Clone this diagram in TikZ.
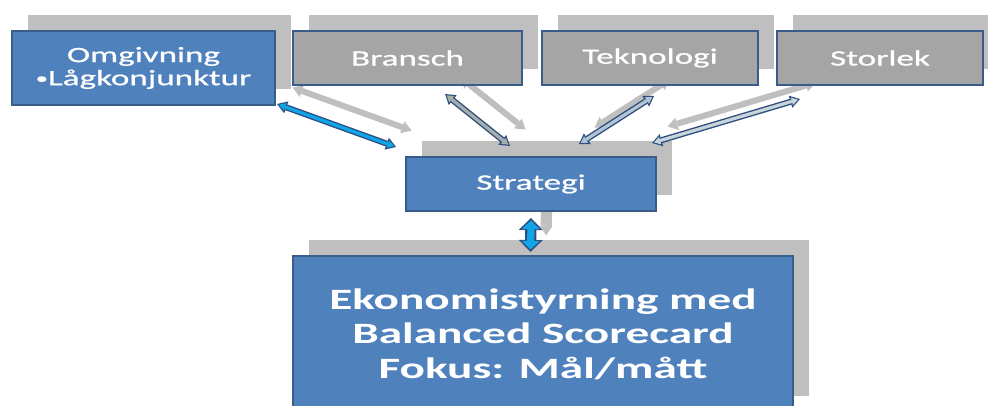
\documentclass[tikz,border=0pt]{standalone}
\usepackage{fontspec}
\setmainfont{Carlito}[FakeStretch=1.6]
\newfontfamily\labelfont{Carlito}[FakeStretch=1.6,FakeBold=0.8]
\usetikzlibrary{arrows.meta,shadows}
\pgfdeclarelayer{background}
\pgfsetlayers{background,main}
\definecolor{boxblue}{HTML}{4F81BD}
\definecolor{boxedge}{HTML}{385D8A}
\definecolor{boxgrey}{HTML}{A5A5A5}
\definecolor{shade}{HTML}{BFBFBF}
\definecolor{linkedge}{HTML}{2E5080}
\definecolor{cyanfill}{HTML}{10A5E8}
\definecolor{branfill}{HTML}{A7AFAB}
\definecolor{teknfill}{HTML}{B3C4D2}
\definecolor{storfill}{HTML}{C9D3DA}
\tikzset{
  box/.style={draw=boxedge, line width=1.4pt, text=white, inner sep=0pt,
    align=center, font=\labelfont\fontsize{15.6}{16.4}\selectfont,
    general shadow={fill=shade, shadow xshift=0.39cm, shadow yshift=0.41cm}},
  bluebox/.style={box, fill=boxblue},
  greybox/.style={box, fill=boxgrey},
  link/.style={draw=linkedge, line width=4.3pt, {Triangle[length=7pt,width=9pt,line width=0pt]}-{Triangle[length=7pt,width=9pt,line width=0pt]},
    postaction={draw=#1, line width=2.3pt, shorten <=1.5pt, shorten >=1.5pt,
      {Triangle[length=4.5pt,width=5.5pt,line width=0pt]}-{Triangle[length=4.5pt,width=5.5pt,line width=0pt]}}},
  fatlink/.style={draw=linkedge, line width=8pt, {Triangle[length=8.5pt,width=17pt,line width=0pt]}-{Triangle[length=8.5pt,width=17pt,line width=0pt]},
    postaction={draw=#1, line width=5pt, shorten <=1.8pt, shorten >=1.8pt,
      {Triangle[length=6pt,width=12.5pt,line width=0pt]}-{Triangle[length=6pt,width=12.5pt,line width=0pt]}}},
  linkshade/.style={draw=shade, line width=4.3pt,
    {Triangle[length=7pt,width=9pt,line width=0pt]}-{Triangle[length=7pt,width=9pt,line width=0pt]},
    transform canvas={shift={(0.39cm,0.41cm)}}},
}
\begin{document}
\begin{tikzpicture}[x=0.025cm,y=0.025cm]
  \useasboundingbox (0,0) rectangle (988,406);
  \clip (0,0) rectangle (988,406);
  % top row of factors
  \node[bluebox, minimum width=6.575cm, minimum height=1.85cm] (omg) at (143.5,338)
    {Omgivning\\{\fontsize{11}{11}\selectfont\raisebox{1.2pt}{•}}Lågkonjunktur};
  \node[greybox, minimum width=5.725cm, minimum height=1.35cm] (bra) at (407.5,348) {Bransch};
  \node[greybox, minimum width=5.4cm, minimum height=1.35cm] (tek) at (650,348) {Teknologi};
  \node[greybox, minimum width=5.15cm, minimum height=1.35cm] (sto) at (880,348) {Storlek};
  % strategy and control
  \node[bluebox, minimum width=6.25cm, minimum height=1.35cm] (str) at (531,222) {Strategi};
  \node[bluebox, minimum width=12.5cm, minimum height=3.9cm,
    font=\bfseries\fontsize{21}{24.5}\selectfont] (eko) at (543,72)
    {Ekonomistyrning med\\Balanced Scorecard\\Fokus: Mål/mått};
  % arrow ends
  \coordinate (omg-out) at ([shift={(1,2)}]omg.south east);
  \coordinate (bra-out) at ([shift={(37.5,-8)}]bra.south);
  \coordinate (tek-out) at ([shift={(4,-10)}]tek.south);
  \coordinate (sto-out) at ([shift={(24,-13)}]sto.south west);
  \coordinate (str-omg) at ([shift={(-9,9)}]str.north west);
  \coordinate (str-bra) at ([shift={(-21,10)}]str.north);
  \coordinate (str-tek) at ([shift={(48,12)}]str.north);
  \coordinate (str-sto) at ([shift={(-5,13)}]str.north east);
  \coordinate (str-out) at ([shift={(0,-6)}]str.south);
  \coordinate (eko-in) at ([shift={(-12.5,3)}]eko.north);
  % shadows of the arrows
  \begin{pgfonlayer}{background}
    \foreach \a/\b in {omg-out/str-omg,bra-out/str-bra,tek-out/str-tek,sto-out/str-sto}
      \draw[linkshade] (\a) -- (\b);
    \draw[linkshade, line width=8pt] (str-out) -- (eko-in);
  \end{pgfonlayer}
  \draw[link=cyanfill] (omg-out) -- (str-omg);
  \draw[link=branfill] (bra-out) -- (str-bra);
  \draw[link=teknfill] (tek-out) -- (str-tek);
  \draw[link=storfill] (sto-out) -- (str-sto);
  \draw[fatlink=cyanfill] (str-out) -- (eko-in);
\end{tikzpicture}
\end{document}
